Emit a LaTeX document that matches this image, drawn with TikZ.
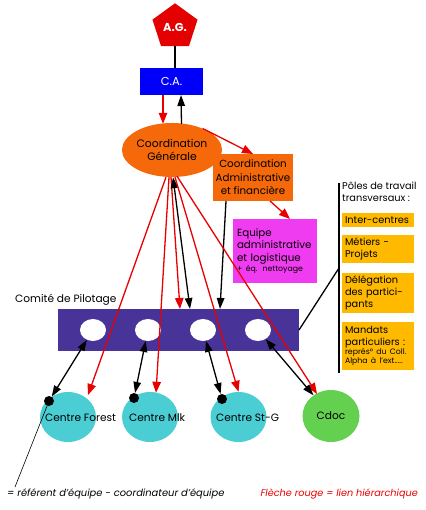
\documentclass[tikz,border=0pt]{standalone}
\usepackage{fontspec}
\setmainfont{Poppins}
\usetikzlibrary{shapes.geometric,arrows.meta,calc}
\definecolor{agred}{RGB}{228,0,0}
\definecolor{cablue}{RGB}{0,0,250}
\definecolor{cgorange}{RGB}{245,105,10}
\definecolor{magbox}{RGB}{240,60,240}
\definecolor{barpurple}{RGB}{72,52,152}
\definecolor{centreteal}{RGB}{75,205,212}
\definecolor{cdocgreen}{RGB}{100,208,80}
\definecolor{polesyellow}{RGB}{255,186,0}
\definecolor{linkred}{RGB}{232,0,0}
\tikzset{
  plainbox/.style={rectangle, inner sep=0pt, outer sep=0pt},
  redarrow/.style={draw=linkred, line width=1.3pt, -{Triangle[length=11pt,width=8.5pt]}},
  blackarrow/.style={draw=black, line width=1.3pt, -{Triangle[length=11pt,width=7.5pt]}},
  dblarrow/.style={draw=black, line width=1.3pt, {Triangle[length=11pt,width=7.5pt]}-{Triangle[length=11pt,width=7.5pt]}},
  hole/.style={ellipse, fill=white, minimum width=26pt, minimum height=22pt, inner sep=0pt},
  centre/.style={ellipse, fill=centreteal, minimum width=56pt, minimum height=50pt, inner sep=0pt},
  centrelabel/.style={anchor=west, inner sep=0pt, font=\fontsize{10.6}{12}\selectfont},
  refdot/.style={circle, fill=black, minimum size=10pt, inner sep=0pt},
  polebox/.style={rectangle, fill=polesyellow, minimum width=72pt, inner xsep=3pt, inner ysep=1pt, text width=66pt, align=left, font=\fontsize{9.8}{12}\selectfont},
}
\begin{document}
\begin{tikzpicture}[x=1pt,y=-1pt]
\useasboundingbox (0,0) rectangle (425,510);
% top
\node[regular polygon, regular polygon sides=5, fill=agred, minimum size=47.4pt, inner sep=0pt, outer sep=0pt, text=white, font=\bfseries\fontsize{11.5}{13}\selectfont] (ag) at (175,27) {A.G.};
\node[plainbox, fill=cablue, minimum width=63pt, minimum height=27pt, text=white, font=\fontsize{11.5}{13}\selectfont] (ca) at (171.5,81.5) {C.A.};
\node[ellipse, fill=cgorange, minimum width=82pt, minimum height=54pt, inner sep=0pt, align=center, font=\fontsize{10.8}{13}\selectfont] (cg) at (172,150) {Coordination\\Générale};
\node[plainbox, fill=cgorange, minimum width=80pt, minimum height=47pt, align=center, font=\fontsize{10.3}{13.5}\selectfont] (caf) at (253,177.5) {Coordination\\Administrative\\et financière};
\node[plainbox, fill=magbox, minimum width=84pt, minimum height=64pt, inner xsep=4pt, text width=76pt, align=left, font=\fontsize{10.3}{12.5}\selectfont] (eq) at (275,251) {Equipe\\administrative\\et logistique\\[-2pt]{\fontsize{7.8}{9}\selectfont + éq. nettoyage}};
% comite
\node[anchor=west, inner sep=0pt, font=\fontsize{10.6}{12}\selectfont] (cplabel) at (15,300) {Comité de Pilotage};
\node[plainbox, fill=barpurple, minimum width=241pt, minimum height=42pt] (bar) at (178.5,330) {};
\node[hole] (s1) at (93,330) {};
\node[hole] (s2) at (148,330) {};
\node[hole] (s3) at (203,330) {};
\node[hole] (s4) at (258,330) {};
% centres
\node[centre] (forest) at (68,417) {};
\node[centrelabel] (forestlabel) at (45,418) {Centre Forest};
\node[centre] (mlk) at (150,417) {};
\node[centrelabel] (mlklabel) at (129,418) {Centre Mlk};
\node[centre] (stg) at (238.5,417) {};
\node[centrelabel] (stglabel) at (216,418) {Centre St-G};
\node[ellipse, fill=cdocgreen, minimum width=57pt, minimum height=52pt, inner sep=0pt, font=\fontsize{10.6}{12}\selectfont] (cdoc) at (331,416) {Cdoc};
\node[refdot] (d1) at (49,401) {};
\node[refdot] (d2) at (134,398) {};
\node[refdot] (d3) at (222,399) {};
% poles
\coordinate (ptop) at (339,183);
\coordinate (pbot) at (339,373);
\coordinate (pmid) at (339,268);
\node[anchor=north west, align=left, inner sep=0pt, font=\fontsize{9.8}{12}\selectfont] (poltitle) at (342,182) {Pôles de travail\\transversaux :};
\node[polebox, minimum height=14pt] (ic) at (378,220) {Inter-centres};
\node[polebox, minimum height=28pt] (mp) at (378,249) {Métiers -\\Projets};
\node[polebox, minimum height=40pt] (dp) at (378,293) {Délégation\\des partici-\\pants};
\node[polebox, minimum height=48pt] (mand) at (378,346) {Mandats\\particuliers :\\[-3pt]{\fontsize{7.8}{9}\selectfont représ° du Coll.}\\[-3pt]{\fontsize{7.8}{9}\selectfont Alpha à l'ext.....}};
% legend
\node[anchor=base west, inner sep=0pt, font=\itshape\fontsize{9.9}{11}\selectfont] (leg1) at (7,496) {= référent d'équipe - coordinateur d'équipe};
\node[anchor=base east, inner sep=0pt, text=linkred, font=\itshape\fontsize{9.7}{11}\selectfont] (leg2) at (418,496) {Flèche rouge = lien hiérarchique};
\coordinate (legtip) at (15,487);
% connectors
\draw[line width=1.3pt] (ag.south) -- (ag.south |- ca.north);
\draw[redarrow] ($(ca.south)+(-8.5,0)$) -- ($(cg.north)+(-9,1)$);
\draw[blackarrow] ($(cg.north)+(9.5,1)$) -- ($(ca.south)+(9.5,0)$);
\draw[redarrow] (cg.35) -- (caf.north);
\draw[redarrow] ($(caf.south)+(17,0)$) -- ($(eq.north)+(15,0)$);
\draw[blackarrow] ($(caf.south west)+(13,0)$) -- ($(bar.north west)+(162,0)$);
\draw[redarrow] ($(cg.south)+(-6,0)$) -- ($(forest.center)+(20,-22)$);
\draw[redarrow] ($(cg.south)+(-3,0)$) -- ($(mlk.north)+(6,1)$);
\draw[redarrow] ($(cg.south)+(-1,0)$) -- ($(bar.north west)+(122,0)$);
\draw[dblarrow] ($(cg.south)+(1,0)$) -- ($(bar.north west)+(132,0)$);
\draw[redarrow] ($(cg.south)+(3,0)$) -- (stg.north);
\draw[redarrow] ($(cg.south)+(5,-1)$) -- ($(cdoc.center)+(-14,-22)$);
\draw[dblarrow] (s1) -- (d1);
\draw[dblarrow] (s2) -- (d2);
\draw[dblarrow] (s3) -- (d3);
\draw[dblarrow] (s4) -- (cdoc);
\draw[line width=1.3pt] (bar.east) -- (pmid);
\draw[line width=1.5pt] (ptop) -- (pbot);
\draw[line width=0.6pt] (d1.center) -- (legtip);
\end{tikzpicture}
\end{document}
